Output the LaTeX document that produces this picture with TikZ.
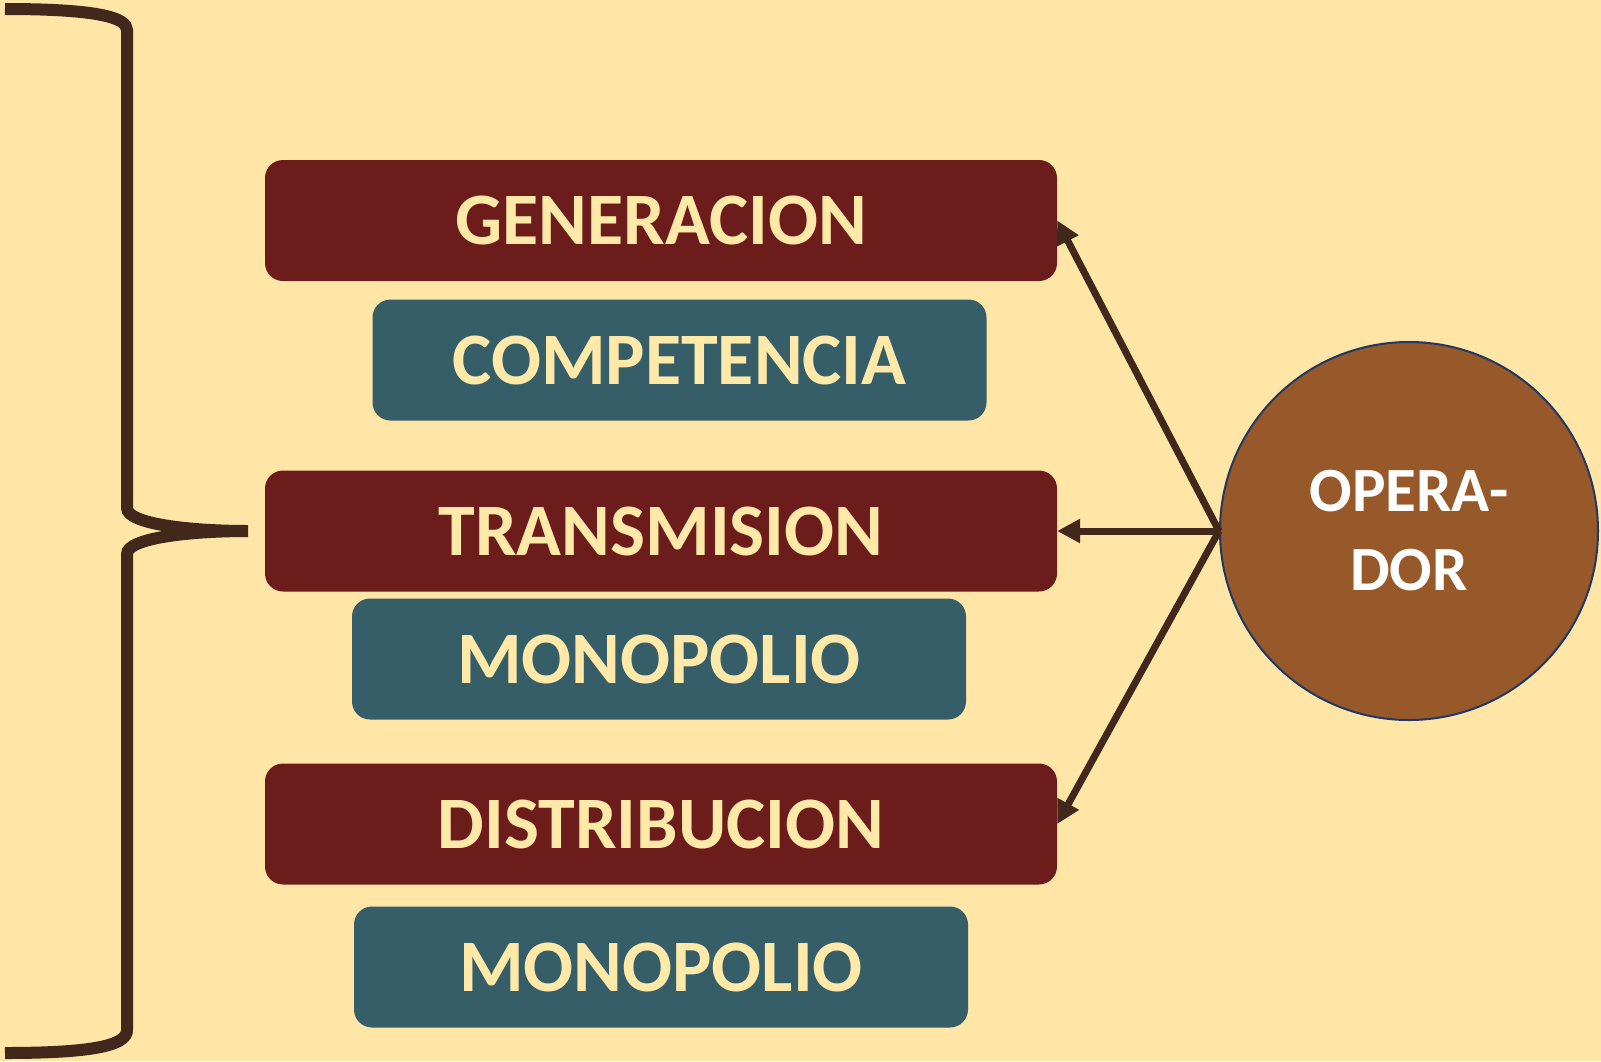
\documentclass[tikz,border=0pt]{standalone}
\usepackage{fontspec}
\setmainfont{Carlito}
\usepackage{tikz}
\usetikzlibrary{arrows.meta}

\definecolor{fondo}{HTML}{FFE5A6}
\definecolor{rojo}{HTML}{6D1C1C}
\definecolor{azul}{HTML}{355E68}
\definecolor{cafe}{HTML}{97582A}
\definecolor{borde}{HTML}{1F3864}
\definecolor{trazo}{HTML}{42281A}
\definecolor{crema}{HTML}{FFE9A8}

\begin{document}
\begin{tikzpicture}[
                x=1pt, y=-1pt,
                etapa/.style={rectangle, rounded corners=18pt, fill=rojo, text=crema, minimum width=792pt, minimum height=121pt, font=\fontsize{74}{80}\selectfont\bfseries}, % Stage boxes
                mercado/.style={etapa, fill=azul, minimum width=614pt}, % Market boxes
                operador/.style={circle, draw=borde, line width=2pt, fill=cafe, text=white, minimum size=378pt, align=center, font=\fontsize{63}{79}\selectfont\bfseries}, % Circle
                flecha/.style={draw=trazo, line width=7pt, -{Triangle[length=23pt,width=23pt]}} % Arrows
                ]
                \fill[fondo] (0,0) rectangle (1601,1061);
                \useasboundingbox (0,0) rectangle (1601,1061);
                % brace
                \draw[trazo, line width=12pt] (5,9) .. controls (100,9) and (127,18) .. (127,30) -- (127,508)
                    .. controls (127,524) and (190,531) .. (248,531)
                    .. controls (190,531) and (127,538) .. (127,554) -- (127,1030)
                    .. controls (127,1044) and (100,1053) .. (5,1053);
                \node[etapa] (gen) at (661,220.5) {GENERACION};
                \node[mercado] (comp) at (679.5,360) {COMPETENCIA};
                \node[etapa] (trans) at (661,531) {TRANSMISION};
                \node[mercado] (mono1) at (659,659) {MONOPOLIO};
                \node[etapa] (dist) at (661,824) {DISTRIBUCION};
                \node[mercado] (mono2) at (661,967) {MONOPOLIO};
                \node[operador] (op) at (1409,531) {OPERA-\\DOR};
                \draw[flecha] (op.west) -- (gen.east);
                \draw[flecha] (op.west) -- (trans.east);
                \draw[flecha] (op.west) -- (dist.east);
            \end{tikzpicture}
\end{document}
